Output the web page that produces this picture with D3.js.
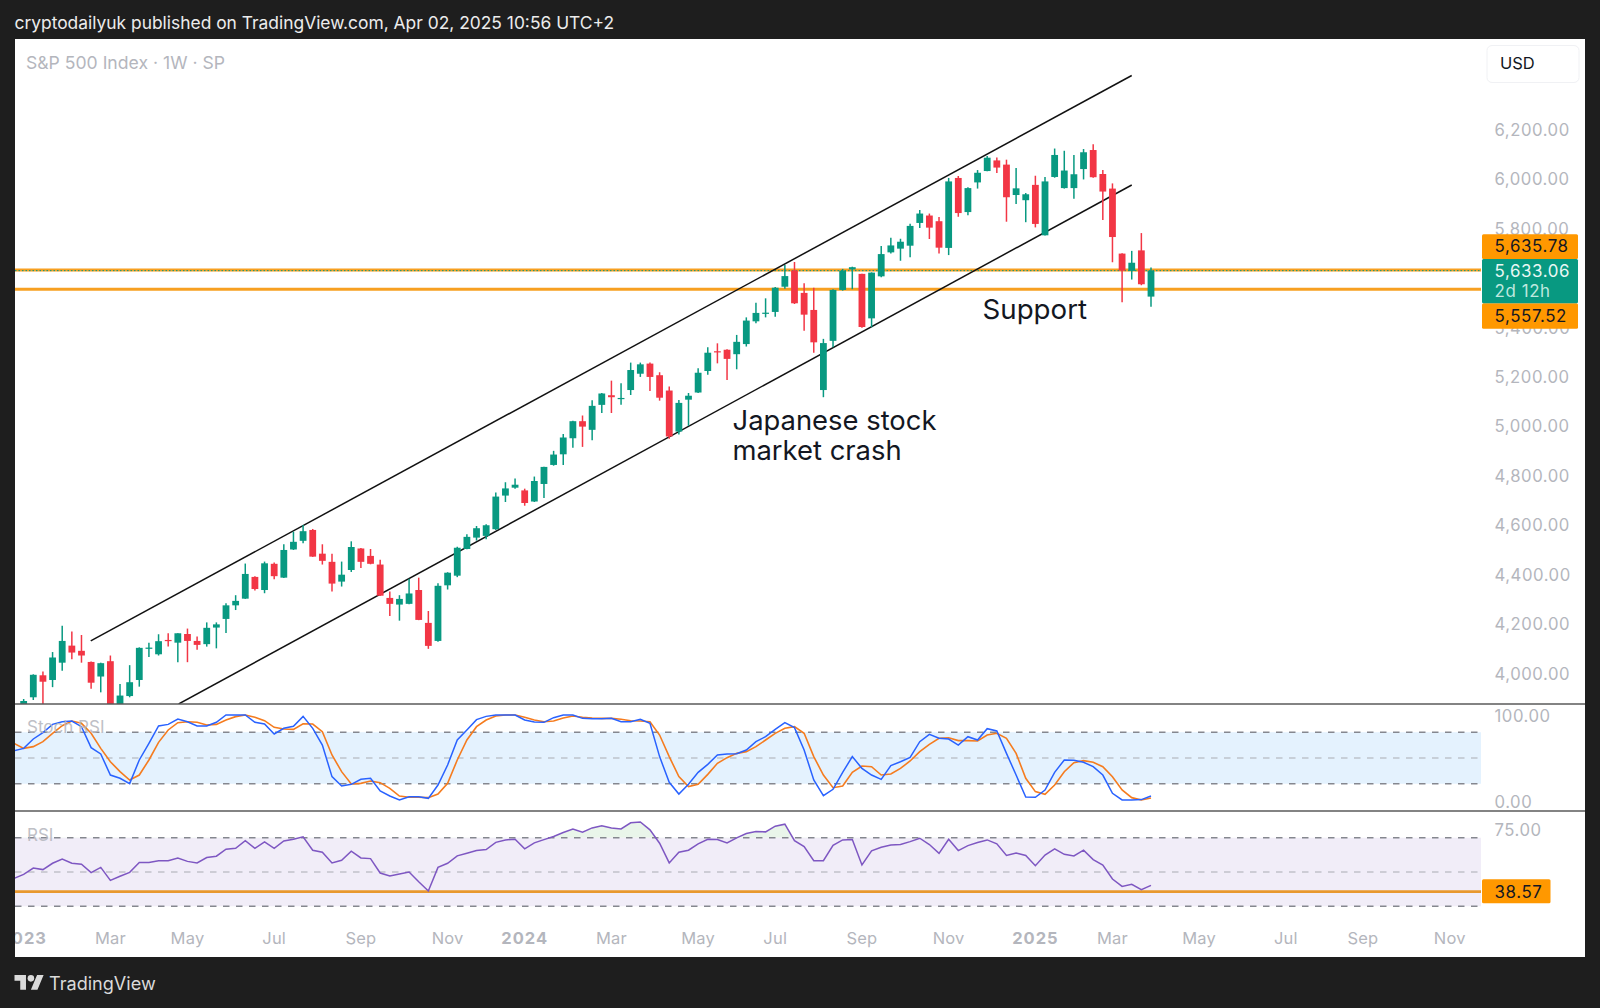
<!DOCTYPE html>
<html><head><meta charset="utf-8">
<script src="https://cdn.jsdelivr.net/npm/d3@7"></script>
<style>html,body{margin:0;padding:0;background:#1e1e1e}svg{display:block}text{font-family:Inter,"Liberation Sans",sans-serif}</style>
</head><body><svg id="c" width="1600" height="1008"></svg>
<script>
// weekly bars, first entry is bar -1 (week of 2 Jan 2023), last is bar 116 (week of 31 Mar 2025)
const firstBar = -1;
const opens = [3840,3907,3996,3977,4047,4116,4095,4050,3991,4053,3858,3912,3977,4103,4081,4139,4128,4163,4135,4122,4189,4224,4279,4306,4394,4341,4447,4391,4505,4540,4584,4488,4455,4375,4422,4509,4479,4444,4309,4282,4285,4341,4208,4135,4360,4399,4507,4553,4560,4587,4723,4755,4744,4699,4770,4847,4890,4955,5024,4989,5090,5129,5114,5150,5216,5257,5210,5148,4982,5111,5140,5227,5307,5313,5295,5336,5428,5459,5466,5568,5634,5543,5474,5150,5349,5555,5638,5620,5440,5610,5707,5722,5734,5826,5856,5833,5725,6008,5870,5990,6036,6079,6062,5939,5918,5980,5776,6012,5967,5967,6044,6121,6024,5965,5702,5632,5715,5528];
const highs = [3900,4000,4011,4090,4196,4173,4159,4052,4047,4076,3961,4037,4109,4128,4162,4166,4166,4185,4153,4210,4210,4287,4320,4448,4397,4456,4452,4526,4577,4604,4588,4526,4488,4456,4538,4511,4507,4463,4335,4320,4387,4391,4256,4368,4413,4516,4567,4600,4607,4735,4777,4792,4751,4800,4840,4904,4972,5026,5047,5109,5138,5188,5177,5261,5261,5261,5222,5164,5110,5138,5238,5323,5339,5315,5373,5444,5503,5521,5567,5656,5668,5582,5564,5357,5558,5640,5649,5620,5626,5733,5766,5762,5823,5878,5864,5850,6008,6016,5970,6040,6097,6091,6082,6048,5947,6017,6012,6127,6118,6101,6125,6144,6040,5986,5703,5713,5785,5646];
const lows = [3820,3896,3830,3948,4014,4061,4047,3942,3927,3846,3808,3907,3950,4070,4076,4112,4049,4049,4099,4112,4105,4167,4260,4305,4339,4328,4385,4390,4503,4530,4475,4444,4335,4355,4414,4430,4445,4317,4236,4217,4283,4219,4103,4132,4343,4393,4506,4541,4546,4584,4697,4751,4682,4697,4713,4844,4847,4917,4920,4947,5057,5057,5090,5130,5203,5146,5107,4953,4970,5005,5138,5212,5258,5191,5234,5326,5420,5444,5447,5560,5498,5390,5301,5121,5323,5552,5558,5402,5404,5606,5702,5673,5687,5806,5761,5702,5696,5851,5857,5965,6035,6028,5831,5903,5829,5808,5775,6009,5965,5924,6002,6009,5838,5667,5505,5597,5574,5487];
const closes = [3892,3998,3970,4068,4135,4088,4076,3966,4045,3861,3914,3968,4107,4108,4134,4135,4166,4135,4119,4188,4202,4279,4297,4406,4345,4449,4397,4503,4536,4579,4476,4459,4367,4403,4515,4455,4447,4318,4285,4305,4327,4220,4115,4358,4411,4512,4556,4591,4603,4719,4752,4767,4693,4782,4839,4889,4958,5024,5002,5086,5136,5121,5118,5231,5254,5203,5119,4962,5098,5127,5220,5301,5303,5276,5345,5431,5462,5463,5564,5611,5501,5455,5343,5340,5555,5633,5647,5405,5625,5700,5735,5750,5814,5864,5807,5726,5994,5866,5967,6029,6090,6050,5930,5966,5942,5822,5994,6101,6038,6023,6112,6011,5953,5769,5633,5665,5578,5633.06];

// oscillators, first entry is bar -2
const firstOsc = -2;
const stochK = [58.5,61.2,72.1,79.5,89.1,92.2,93,86.4,62,54.7,30.2,26.4,20.2,47.7,67.1,87.2,89.1,95.3,92.2,87.2,87.2,91.5,100,100,100,91.5,89.5,77.9,84.5,86.8,98.4,84.5,65.1,28.3,17.4,19.4,25.2,26.4,11.6,5.8,1.2,5,5,3.1,18.6,41.9,70.9,82.6,94.6,98.4,100,100,100,94.2,91.9,91.5,96.9,100,100,96.1,95.7,95.7,96.1,92.2,92.2,95,90.3,51.6,21.7,8.1,19.4,33.3,42.6,53.5,54.7,55,59.3,69,74.8,83.3,91.1,85.3,59.3,24.4,6.2,13.6,33.3,51.6,38,30.2,25.2,41.1,45.7,50.8,69,77.5,72.9,72.1,65.1,74.8,70.9,84.1,81.4,55.4,30.2,4.7,4.3,12.8,33.3,47.7,47.3,45,39.9,30.2,8.9,1.2,1.2,1.6,5.8];
const stochD = [67,61.2,63.2,69,78.7,87.6,93,90.3,78.7,61.2,45.7,34.1,24.4,30.2,47.7,68.2,82.6,91.1,92.2,91.5,88.4,89.1,94.2,98.1,100,97.3,93.4,85.7,83.7,83.3,89.9,89.5,80.6,53.5,34.1,19.8,20.5,23.3,21.3,14.7,5.8,4.3,4.3,3.9,8.1,20.5,47.7,70.9,86.4,94.2,98.8,100,100,97.3,94.2,92.2,93,96.5,98.8,97.3,96.5,96.1,96.1,95,93.4,93,92.2,76.7,51.6,28.3,16.7,19.4,31,43.8,50.4,55.4,57.4,63.2,70.9,78.7,84.5,86.4,78.7,51.6,30.2,15.5,17.4,33.3,40.7,39.9,30.2,31.4,38,46.5,57.4,65.9,72.9,73.6,70.2,70.2,69.8,76.7,78.7,72.9,55.4,26.4,10.9,7.8,18.6,34.1,44.6,46.9,45,39.9,28.3,12.8,3.9,1.2,3.5];
const rsi = [46.3,48.6,52.3,51.4,55.1,57.6,55.1,54.5,49.6,52.7,45.1,47.5,49.8,55.5,55.5,56.6,56.6,58.2,56.2,55.3,58.4,59.2,63.3,63.8,68.3,63.8,67.5,63.8,68.1,69.1,70.5,62.7,61.5,55.3,56.8,62.1,58.2,57.8,49.4,47.7,48.8,50,44.3,38.9,52.7,55.1,59.4,60.9,62.5,63.1,67.3,68.7,69.1,63.5,67,68.9,70.7,73,75,73.2,75.7,76.9,75.7,75.1,78.7,79.2,74.6,66.8,55.3,61.5,62.7,66.4,69.1,68.9,67,69.9,72.4,73.6,73.4,76.7,77.9,68.3,64.8,56.6,56.6,65.6,68.7,68.9,54.1,62.3,64.4,65.8,66,67.7,69.7,66,60.9,69.1,62.5,65.4,67.2,68.7,66.4,59.7,61.1,59.6,53.7,59.9,63.5,60.3,59.4,62.7,57.2,54.1,45.9,41.6,42.8,39.7,42.2];

// axis labels (5,600.00 sits fully behind the last-price label in the picture)
const priceTicks = [6200,6000,5800,5400,5200,5000,4800,4600,4400,4200,4000];
const timeTickBars = [-1,8,16,25,34,43,51,60,69,77,86,95,104,112,121,130,138,147];
const timeTickLabels = ["2023","Mar","May","Jul","Sep","Nov","2024","Mar","May","Jul","Sep","Nov","2025","Mar","May","Jul","Sep","Nov"];
const yearLabels = ["2023","2024","2025"];
const stochTicks = [100,0];
const stochLevels = [80,50,20];
const rsiTicks = [75];
const rsiLevels = [70,50,30];
// drawings: [bar, price]
const upperChannel = [[5.96,4135],[114,6422.5]];
const lowerChannel = [[15.09,3880],[114,5979.5]];
const supportLevels = [5635.78,5557.52];
const lastPrice = 5633.06;
const rsiSupport = 38.57;

const svg = d3.select("#c");
const L=15,R=1585,AX=1481,T=39,P1=704,P2=811,B=957;
const x = d3.scaleLinear().domain([0,116]).range([33.3,1151]);
const y = d3.scaleLinear().domain([6200,4000]).range([130.5,674.3]);
const ys = d3.scaleLinear().domain([100,0]).range([715,801]);
const yr = d3.scaleLinear().domain([70,50]).range([837.7,872]);
const G="#089981",RD="#F23645",OR="#FF9800",OL="#F7A021",AT="#B4B6BD";

svg.append("rect").attr("width",1600).attr("height",1008).attr("fill","#1e1e1e");
svg.append("rect").attr("x",L).attr("y",T).attr("width",R-L).attr("height",B-T).attr("fill","#fff");
const defs=svg.append("defs");
const clip=(id,a,b,c,d)=>defs.append("clipPath").attr("id",id).append("rect").attr("x",a).attr("y",b).attr("width",c-a).attr("height",d-b);
clip("m",L,T,AX,P1);clip("s",L,P1,AX,P2);clip("r",L,P2,AX,B);
clip("above70",L,P2,AX,yr(70));

// main pane
const main=svg.append("g").attr("clip-path","url(#m)");
main.selectAll(".sup").data(supportLevels).join("line").attr("x1",L).attr("x2",AX)
  .attr("y1",d=>y(d)).attr("y2",d=>y(d)).attr("stroke",OL).attr("stroke-width",2.9);
main.append("line").attr("x1",L).attr("x2",AX).attr("y1",y(lastPrice)).attr("y2",y(lastPrice))
  .attr("stroke",G).attr("stroke-width",1).attr("stroke-dasharray","1.5 2");
const ln=d3.line().x(d=>x(d[0])).y(d=>y(d[1]));
[upperChannel,lowerChannel].forEach(c=>main.append("path").attr("d",ln(c)).attr("fill","none").attr("stroke","#111").attr("stroke-width",1.5));
const bars=opens.map((o,i)=>({b:i+firstBar,o,h:highs[i],l:lows[i],c:closes[i]}));
const col=d=>d.c>=d.o?G:RD;
main.selectAll(".w").data(bars).join("line").attr("x1",d=>x(d.b)).attr("x2",d=>x(d.b))
  .attr("y1",d=>y(d.h)).attr("y2",d=>y(d.l)).attr("stroke",col).attr("stroke-width",1.5);
main.selectAll(".b").data(bars).join("rect").attr("x",d=>x(d.b)-3.4).attr("width",6.8)
  .attr("y",d=>y(Math.max(d.o,d.c))).attr("height",d=>Math.max(1.2,Math.abs(y(d.o)-y(d.c)))).attr("fill",col);

// panes
const bandS=svg.append("g").attr("clip-path","url(#s)");
bandS.append("rect").attr("x",L).attr("width",AX-L).attr("y",ys(80)).attr("height",ys(20)-ys(80)).attr("fill","#2196F3").attr("opacity",.12);
const level=(g,sc,vals)=>g.selectAll(".lv").data(vals).join("line").attr("x1",L).attr("x2",AX)
  .attr("y1",sc).attr("y2",sc).attr("stroke",(d,i)=>i==1?"#A9ABB2":"#85878F").attr("stroke-width",(d,i)=>i==1?1.2:1.6).attr("stroke-dasharray","6.5 6.5");
level(bandS,ys,stochLevels);
const lS=sc=>d3.line().x((d,i)=>x(i+firstOsc)).y(d=>sc(d));
bandS.append("path").attr("d",lS(ys)(stochD)).attr("fill","none").attr("stroke","#F57C1F").attr("stroke-width",1.6);
bandS.append("path").attr("d",lS(ys)(stochK)).attr("fill","none").attr("stroke","#2962FF").attr("stroke-width",1.5);

const bandR=svg.append("g").attr("clip-path","url(#r)");
bandR.append("rect").attr("x",L).attr("width",AX-L).attr("y",yr(70)).attr("height",yr(30)-yr(70)).attr("fill","#7E57C2").attr("opacity",.11);
bandR.append("g").attr("clip-path","url(#above70)").append("path")
  .attr("d",d3.area().x((d,i)=>x(i+firstOsc)).y0(yr(70)).y1(d=>yr(d))(rsi)).attr("fill","#4CAF50").attr("opacity",.12);
level(bandR,yr,rsiLevels);
bandR.append("line").attr("x1",L).attr("x2",AX).attr("y1",yr(rsiSupport)).attr("y2",yr(rsiSupport)).attr("stroke","#E8982E").attr("stroke-width",2.6);
bandR.append("path").attr("d",lS(yr)(rsi)).attr("fill","none").attr("stroke","#7E57C2").attr("stroke-width",1.5);

// dividers
[P1,P2].forEach(v=>svg.append("line").attr("x1",L).attr("x2",R).attr("y1",v).attr("y2",v).attr("stroke","#5a5a5a").attr("stroke-width",1.5));

// axes
const styleAxis=(g,size,dy)=>{g.select(".domain").remove();g.selectAll(".tick line").remove();
  g.selectAll("text").attr("fill",AT).attr("font-size",size).attr("font-family","Inter").attr("letter-spacing",.55);
  g.attr("transform",`translate(1494.5,${dy})`);};
const fmt=d3.format(",.2f");
svg.append("g").call(d3.axisRight(y).tickValues(priceTicks).tickFormat(fmt).tickSize(0).tickPadding(0)).call(styleAxis,16.7,-0.5);
svg.append("g").call(d3.axisRight(ys).tickValues(stochTicks).tickFormat(d3.format(".2f")).tickSize(0).tickPadding(0)).call(styleAxis,16.7,1);
svg.append("g").call(d3.axisRight(yr).tickValues(rsiTicks).tickFormat(d3.format(".2f")).tickSize(0).tickPadding(0)).call(styleAxis,16.7,1);
const gx=svg.append("g").attr("clip-path","url(#tx)");
defs.append("clipPath").attr("id","tx").append("rect").attr("x",L).attr("y",910).attr("width",R-L).attr("height",60);
gx.selectAll("text").data(timeTickLabels).join("text").attr("x",(d,i)=>x(timeTickBars[i])).attr("y",937.5)
  .attr("text-anchor","middle").attr("dominant-baseline","central").attr("fill",AT).attr("font-size",16.5)
  .attr("font-weight",d=>yearLabels.includes(d)?700:400).attr("letter-spacing",d=>yearLabels.includes(d)?1:.2).text(d=>d);

// price labels
const box=(x0,x1,y0,y1,f,rx)=>svg.append("rect").attr("x",x0).attr("width",x1-x0).attr("y",y0).attr("height",y1-y0).attr("fill",f).attr("rx",rx||1.5);
const tx=(s,xx,yy,f,size,o={})=>{const t=svg.append("text").attr("x",xx).attr("y",yy).attr("dominant-baseline","central").attr("fill",f).attr("font-size",size).text(s);
  Object.entries(o).forEach(([k,v])=>t.attr(k,v));return t;};
box(1482,1578,234.3,259,OR);box(1482,1578,303.3,328.7,OR);box(1482,1578,259,303.3,G,0);
tx(fmt(supportLevels[0]),1494.5,246,"#131722",16.9,{"letter-spacing":.6});
tx(fmt(lastPrice),1494.5,270.8,"#EAF7F4",16.9,{"letter-spacing":.6});
tx("2d 12h",1494.5,290.5,"#BFE8DF",16.9,{"letter-spacing":.6});
tx(fmt(supportLevels[1]),1494.5,315.5,"#131722",16.9,{"letter-spacing":.6});
box(1482,1550.5,879.3,903.3,OR);
tx(rsiSupport.toFixed(2),1494.5,892,"#131722",16.9,{"letter-spacing":.6});

// USD button
svg.append("rect").attr("x",1487).attr("y",45.5).attr("width",92).attr("height",37).attr("rx",5).attr("fill","#fff").attr("stroke","#F0F1F4");
tx("USD",1500,63.3,"#131722",16.5);

// legends
tx("S&P 500 Index · 1W · SP",26,62,"#B4B6BD",17.6);
tx("Stoch RSI",27,727,"#B4B6BD",17,{opacity:.85});
tx("RSI",27,835,"#B4B6BD",17,{opacity:.85});

// annotations
tx("Japanese stock",732.5,419.8,"#131722",27.4);
tx("market crash",732.5,449.5,"#131722",27.4);
tx("Support",982.5,308.7,"#131722",27.7);

// frame text
tx("cryptodailyuk published on TradingView.com, Apr 02, 2025 10:56 UTC+2",14.5,22.5,"#ECECEC",17.4);
tx("TradingView",49,983,"#DADADA",18.1);
svg.append("path").attr("transform","translate(14.5,971.8) scale(.82)")
  .attr("d","M14 22H7V11H0V4h14v18zM28 22h-8l7.5-18h8L28 22z").attr("fill","#DADADA");
svg.append("circle").attr("cx",14.5+20*.82).attr("cy",971.8+8*.82).attr("r",4*.82).attr("fill","#DADADA");
</script></body></html>
